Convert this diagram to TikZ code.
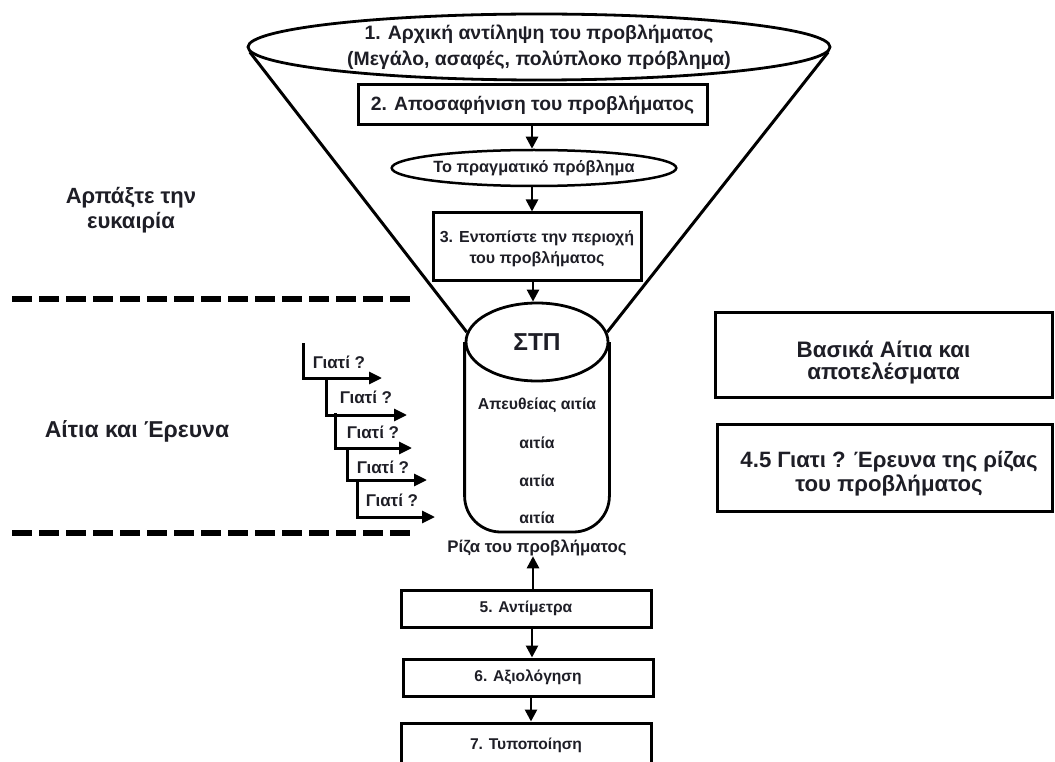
\documentclass[tikz,border=0pt]{standalone}
\usepackage{fontspec}
\setmainfont{Liberation Sans}
\usetikzlibrary{shapes.geometric,arrows.meta}
\definecolor{txt}{RGB}{30,30,38}
\newcommand\fsz[2]{\fontsize{#1}{#2}\selectfont}
\begin{document}
\begin{tikzpicture}[x=1pt,y=-1pt,
  every node/.style={text=txt, inner sep=0pt, align=center},
  bold/.style 2 args={font=\fsz{#1}{#2}\bfseries},
  box/.style={draw, line width=3pt},
  oval/.style={draw, ellipse, line width=2.8pt},
  flow/.style={line width=2.6pt, -{Triangle[length=12pt,width=12pt]}},
  stair/.style={line width=3pt, -{Triangle[length=13pt,width=12pt]}},
  funnel/.style={line width=3pt},
  divider/.style={line width=6.5pt, dash pattern=on 20pt off 7pt},
]
\useasboundingbox (0,0) rectangle (1055,762);
\clip (0,0) rectangle (1055,762);

% funnel: top ellipse, clarification, real problem, area
\node[oval, minimum width=582, minimum height=66] (top) at (539,47) {};
\node[bold={19.4}{25.5}] (topt) at (539,47)
  {1. Αρχική αντίληψη του προβλήματος\\(Μεγάλο, ασαφές, πολύπλοκο πρόβλημα)};
\node[box, minimum width=349, minimum height=40, bold={19.3}{22}] (b2) at (532.5,105)
  {2. Αποσαφήνιση του προβλήματος};
\node[oval, line width=2.5pt, minimum width=232, minimum height=36, bold={16.3}{18}] (real) at (534,168)
  {Το πραγματικό πρόβλημα};
\node[box, minimum width=208, minimum height=67] (b3) at (537,246.5) {};
\node[bold={16}{21}] (b3t) at (537,249)
  {3. Εντοπίστε την περιοχή\\του προβλήματος};

% cylinder
\node[oval, minimum width=142, minimum height=78, bold={24.5}{28}] (stp) at (537,342) {ΣΤΠ};
\coordinate (cylbot) at (537,532);
\draw[line width=2.8pt, rounded corners=36pt]
  (stp.west) -- (stp.west |- cylbot) -- (stp.east |- cylbot) -- (stp.east);
\node[bold={15.8}{18}] (c0) at (537,405) {Απευθείας αιτία};
\node[bold={15.8}{18}] (c1) at (537,443) {αιτία};
\node[bold={15.8}{18}] (c2) at (537,481) {αιτία};
\node[bold={15.8}{18}] (c3) at (537,518) {αιτία};
\node[bold={16.8}{18}] (root) at (537,548) {Ρίζα του προβλήματος};

\draw[funnel] (top.181.4) -- (stp.172);
\draw[funnel] (top.-1.4) -- (stp.8);

% lower steps
\node[box, minimum width=250, minimum height=37, bold={15.6}{18}] (b5) at (526,608.5) {5. Αντίμετρα};
\node[box, minimum width=250, minimum height=37, bold={15.6}{18}] (b6) at (528,677.5) {6. Αξιολόγηση};
\node[box, minimum width=250, minimum height=44, bold={15.6}{18}] (b7) at (526,745) {7. Τυποποίηση};

% connectors
\draw[flow] (b2.south -| 532,0) -- (real.north -| 532,0);
\draw[flow] (real.south -| 532,0) -- (b3.north -| 532,0);
\draw[flow] (b3.south -| 533,0) -- (stp.north -| 533,0);
\draw[flow] (b5.north -| 533,0) -- (root.south -| 533,0);
\draw[flow] (b5.south -| 532,0) -- (b6.north -| 532,0);
\draw[flow] (b6.south -| 531,0) -- (b7.north -| 531,0);

% left side
\node[bold={22}{25}] (seize) at (131,210) {Αρπάξτε την\\ευκαιρία};
\node[bold={23}{28}] (cause) at (137,431) {Αίτια και Έρευνα};
\coordinate (d1a) at (12,299); \coordinate (d1b) at (415,299);
\coordinate (d2a) at (12,533); \coordinate (d2b) at (415,533);
\draw[divider] (d1a) -- (d1b);
\draw[divider] (d2a) -- (d2b);

% why-why staircase
\coordinate (s1a) at (303,343); \coordinate (s1b) at (303,378); \coordinate (s1c) at (382,378);
\coordinate (s2a) at (326,378); \coordinate (s2b) at (326,415); \coordinate (s2c) at (407,415);
\coordinate (s3a) at (335,413); \coordinate (s3b) at (335,448); \coordinate (s3c) at (412,448);
\coordinate (s4a) at (347,448); \coordinate (s4b) at (347,480); \coordinate (s4c) at (427,480);
\coordinate (s5a) at (357,480); \coordinate (s5b) at (357,517); \coordinate (s5c) at (435,517);
\foreach \i in {1,...,5} \draw[stair] (s\i a) -- (s\i b) -- (s\i c);
\node[bold={17}{18}] (w1) at (339,362) {Γιατί ?};
\node[bold={17}{18}] (w2) at (366,397) {Γιατί ?};
\node[bold={17}{18}] (w3) at (373,432) {Γιατί ?};
\node[bold={17}{18}] (w4) at (383,467) {Γιατί ?};
\node[bold={17}{18}] (w5) at (392,500) {Γιατί ?};

% right side
\node[box, minimum width=337, minimum height=85] (rb1) at (883.5,354.5) {};
\node[bold={22.4}{22}] (rb1t) at (883.5,363) {Βασικά Αίτια και\\αποτελέσματα};
\node[box, minimum width=335, minimum height=87] (rb2) at (884.5,467.5) {};
\node[bold={22.2}{24}] (rb2t) at (889,474) {4.5 Γιατι ? Έρευνα της ρίζας\\του προβλήματος};
\end{tikzpicture}
\end{document}
